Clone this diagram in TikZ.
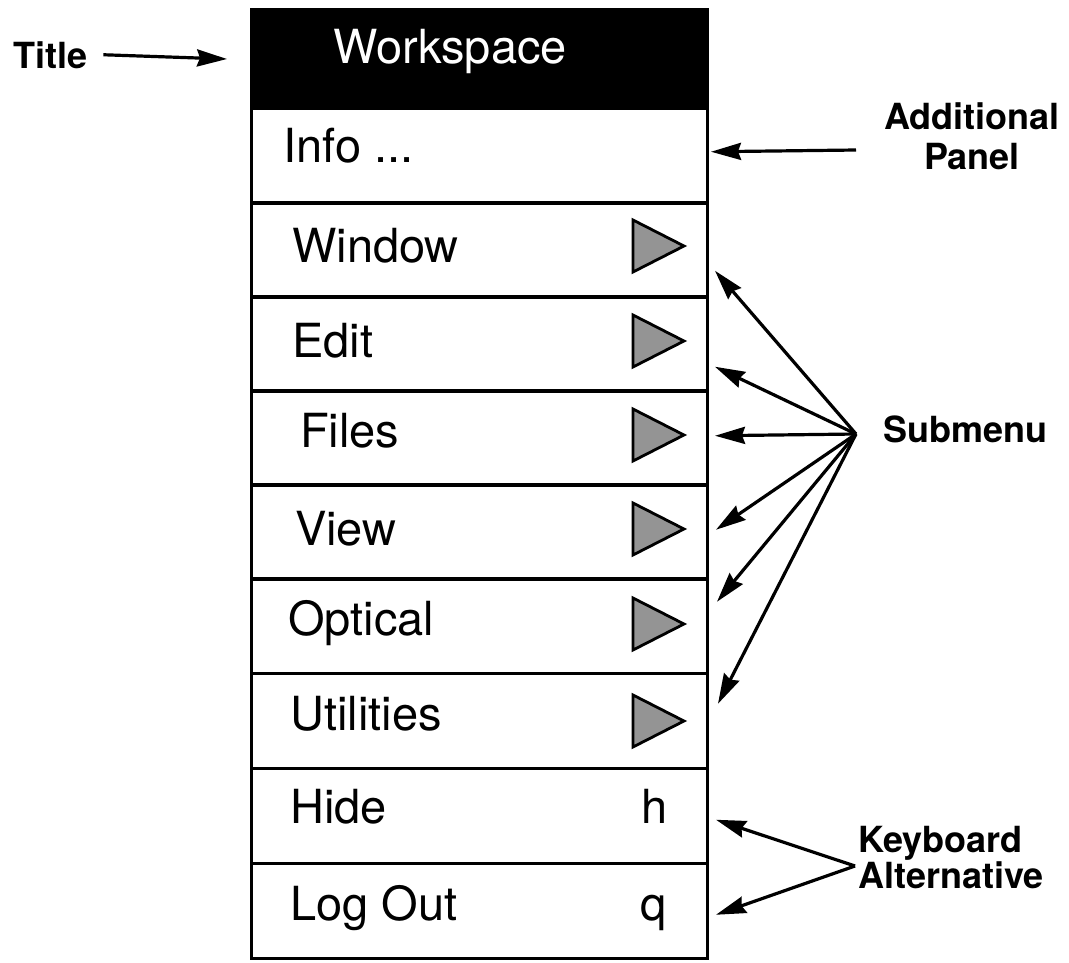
\documentclass[tikz,border=0pt]{standalone}
\usepackage{fontspec}
\setmainfont{TeX Gyre Heros}
\usetikzlibrary{arrows.meta}

\tikzset{
  menurow/.style={draw, line width=3pt, anchor=north west, inner sep=0pt,
    minimum width=456pt, minimum height=94.5pt},
  itemtext/.style={anchor=base west, inner sep=0pt, font=\fontsize{47}{52}\selectfont},
  tagtext/.style={inner sep=0pt, font=\bfseries\fontsize{36}{34}\selectfont},
  pointer/.style={line width=3.2pt, -{Stealth[length=30pt,width=17pt,inset=3pt]}},
  subtri/.style={draw, line width=2.8pt, line join=miter, fill=black!42}
}
% shaded submenu mark, top corner at (633,#1)
\newcommand{\submark}[1]{\draw[subtri] (633,#1) -- ++(51,26) -- ++(-51,26) -- cycle;}

\begin{document}
\begin{tikzpicture}[x=1pt, y=-1pt]
\useasboundingbox (0,0) rectangle (1069,962);

% menu rows
\node[menurow, fill=black, minimum height=99pt] (title) at (250,8) {};
\node[menurow] (info) at (250,107) {};
\node[menurow] (win) at (250,201) {};
\node[menurow] (edit) at (250,295) {};
\node[menurow] (files) at (250,389) {};
\node[menurow] (view) at (250,483) {};
\node[menurow] (optical) at (250,577) {};
\node[menurow] (utils) at (250,672) {};
\node[menurow] (hide) at (250,767) {};
\node[menurow] (logout) at (250,862) {};

% row texts
\node[itemtext, text=white] (titletext) at (333,63) {Workspace};
\node[itemtext] (infotext) at (283,162) {Info ...};
\node[itemtext] (wintext) at (292,262) {Window};
\node[itemtext] (edittext) at (292,357) {Edit};
\node[itemtext] (filestext) at (300,447) {Files};
\node[itemtext] (viewtext) at (295,545) {View};
\node[itemtext] (opticaltext) at (288,635) {Optical};
\node[itemtext] (utilstext) at (290,730) {Utilities};
\node[itemtext] (hidetext) at (290,823) {Hide};
\node[itemtext] (hidekey) at (641,823) {h};
\node[itemtext] (logouttext) at (290,920) {Log Out};
\node[itemtext] (logoutkey) at (640,920) {q};

\submark{220}
\submark{315}
\submark{409}
\submark{503}
\submark{598}
\submark{695}

% outside labels
\node[tagtext, anchor=base west] (titlelbl) at (13,68) {Title};
\node[tagtext, align=center, anchor=north, font=\bfseries\fontsize{36}{40}\selectfont] (panellbl) at (972,102) {Additional\\Panel};
\node[tagtext, anchor=base west] (sublbl) at (883,442) {Submenu};
\node[tagtext, align=left, anchor=north west, font=\bfseries\fontsize{36}{33}\selectfont] (keylbl) at (858,826) {Keyboard\\Alternative};

\coordinate (paneltail) at (856,150);
\coordinate (subhub) at (856,434);
\coordinate (keyhub) at (855,866);

\draw[pointer] ([xshift=16pt]titlelbl.east) -- ([xshift=-23pt]title.west);
\draw[pointer] (paneltail) -- ([xshift=2pt,yshift=4pt]info.east);

\draw[pointer] (subhub) -- ([xshift=6pt,yshift=-21pt]win.east);
\draw[pointer] (subhub) -- ([xshift=6pt,yshift=-23pt]edit.east);
\draw[pointer] (subhub) -- ([xshift=6pt,yshift=2pt]files.east);
\draw[pointer] (subhub) -- ([xshift=7pt,yshift=2pt]view.east);
\draw[pointer] (subhub) -- ([xshift=8pt,yshift=24pt]optical.east);
\draw[pointer] (subhub) -- ([xshift=9pt,yshift=17pt]utils.east);

\draw[pointer] (keyhub) -- ([xshift=7pt,yshift=-4pt]hide.east);
\draw[pointer] (keyhub) -- ([xshift=7pt,yshift=-4pt]logout.east);
\end{tikzpicture}
\end{document}
